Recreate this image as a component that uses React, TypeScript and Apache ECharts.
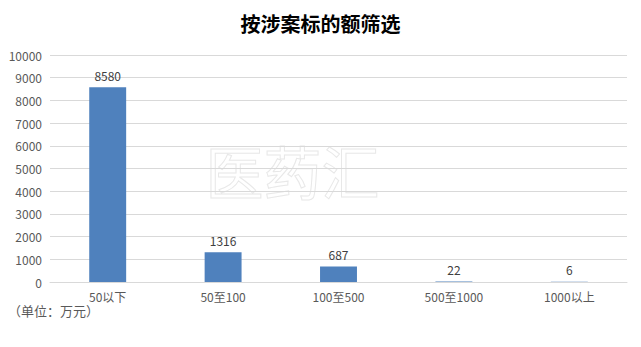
import React, { useEffect, useRef } from "react";
import * as echarts from "echarts";

const categories = ["50以下", "50至100", "100至500", "500至1000", "1000以上"];
const values = [8580, 1316, 687, 22, 6];
const titleText = "按涉案标的额筛选";
const unitText = "（单位：万元）";

export default function App() {
  const ref = useRef<HTMLDivElement>(null);
  useEffect(() => {
    const chart = echarts.init(ref.current!, null, { renderer: "svg" });
    chart.setOption({
      animation: false,
      backgroundColor: "#ffffff",
      title: {
        text: titleText,
        left: "center",
        top: 8,
        textStyle: { fontFamily: "Noto Sans CJK SC", fontSize: 20, fontWeight: "bold", color: "#000000" },
      },
      graphic: [
        {
          type: "text",
          left: 8,
          top: 304,
          style: { text: unitText, fontFamily: "Noto Sans CJK SC", fontSize: 13, fill: "#595959" },
        },
        {
          type: "text",
          left: 205,
          top: 140,
          z: -1,
          style: {
            text: "医药汇",
            fontFamily: "Noto Sans CJK SC",
            fontSize: 58,
            fill: "rgba(255,255,255,0)",
            stroke: "#e8e8e8",
            lineWidth: 1,
          },
        },
      ],
      grid: { left: 50, right: 14, top: 55, bottom: 65 },
      xAxis: {
        type: "category",
        data: categories,
        axisLine: { lineStyle: { color: "#d9d9d9" } },
        axisTick: { show: false },
        axisLabel: { color: "#595959", fontSize: 12, fontFamily: "Noto Sans CJK SC", margin: 8 },
      },
      yAxis: {
        type: "value",
        min: 0,
        max: 10000,
        interval: 1000,
        axisLine: { show: false },
        axisTick: { show: false },
        axisLabel: {
          color: "#595959",
          fontSize: 12,
          fontFamily: "Noto Sans CJK SC",
          margin: 8,
          formatter: (v: number) => String(v),
        },
        splitLine: { lineStyle: { color: "#d9d9d9" } },
      },
      series: [
        {
          type: "bar",
          data: values,
          barWidth: "32%",
          itemStyle: { color: "#4f81bd" },
          label: {
            show: true,
            position: "top",
            color: "#404040",
            fontSize: 12,
            fontFamily: "Noto Sans CJK SC",
            distance: 6,
          },
        },
      ],
    });
    return () => chart.dispose();
  }, []);
  return <div ref={ref} style={{ width: 641, height: 347, position: "absolute", left: 0, top: 0 }} />;
}
